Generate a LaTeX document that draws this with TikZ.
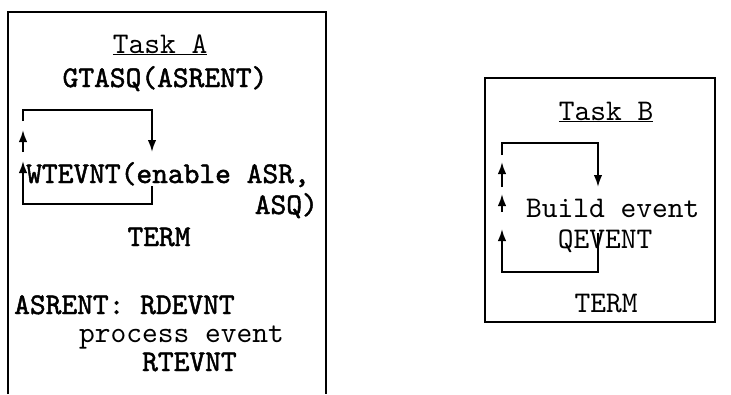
\documentclass[tikz,border=0pt]{standalone}
\usepackage{fontspec}
\newfontfamily\twreg{lmmono10-regular.otf}
\newfontfamily\twbold{lmmono10-regular.otf}[FakeBold=1.6]
\usetikzlibrary{arrows.meta}
\begin{document}
\begin{tikzpicture}[x=1pt,y=-1pt,
  txt/.style={inner sep=0pt,font=\fontsize{30}{34}\selectfont\twreg},
  btxt/.style={inner sep=0pt,font=\fontsize{30}{34}\selectfont\twbold},
  frame/.style={line width=2.3pt},
  loopline/.style={line width=1.9pt},
  arr/.style={loopline,-{Latex[length=12pt,width=8.5pt]}}]
\useasboundingbox (0,0) rectangle (731,394);
% Task A box (open at bottom)
\draw[frame] (8,394) -- (8,12) -- (326,12) -- (326,394);
\node[txt,anchor=base] (taskA) at (160,53) {\underline{Task A}};
\node[btxt,anchor=base] (gtasq) at (165,87) {GTASQ(ASRENT)};
\node[btxt,anchor=base west] (wtevnt) at (26,183) {WTEVNT(enable ASR,};
\node[btxt,anchor=base east] (asq) at (318,214) {ASQ)};
\node[btxt,anchor=base] (termA) at (159,246) {TERM};
\node[btxt,anchor=base west] (asrent) at (14,314) {ASRENT: RDEVNT};
\node[txt,anchor=base west] (process) at (79,342) {process event};
\node[btxt,anchor=base west] (rtevnt) at (142,371) {RTEVNT};
% loop A
\coordinate (a1) at (23,121);
\coordinate (a2) at (23,110);
\coordinate (a3) at (152,110);
\coordinate (a4) at (152,152);
\coordinate (a5) at (23,152);
\coordinate (a6) at (23,130);
\coordinate (a7) at (152,186);
\coordinate (a8) at (152,204);
\coordinate (a9) at (23,204);
\coordinate (a10) at (23,161);
\draw[arr] (a1) -- (a2) -- (a3) -- (a4);
\draw[arr] (a5) -- (a6);
\draw[arr] (a7) -- (a8) -- (a9) -- (a10);
% Task B box
\draw[frame] (485,78) rectangle (715,322);
\node[txt,anchor=base] (taskB) at (606,120) {\underline{Task B}};
\node[txt,anchor=base west] (build) at (526,217) {Build event};
\node[txt,anchor=base] (qevent) at (605,248) {QEVENT};
\node[txt,anchor=base] (termB) at (606,312) {TERM};
% loop B
\coordinate (b1) at (502,155);
\coordinate (b2) at (502,143);
\coordinate (b3) at (598,143);
\coordinate (b4) at (598,187);
\coordinate (b5) at (502,187);
\coordinate (b6) at (502,162);
\coordinate (b7) at (502,212);
\coordinate (b8) at (502,194);
\coordinate (b9) at (598,233);
\coordinate (b10) at (598,272);
\coordinate (b11) at (502,272);
\coordinate (b12) at (502,229);
\draw[arr] (b1) -- (b2) -- (b3) -- (b4);
\draw[arr] (b5) -- (b6);
\draw[arr] (b7) -- (b8);
\draw[arr] (b9) -- (b10) -- (b11) -- (b12);
\end{tikzpicture}
\end{document}
